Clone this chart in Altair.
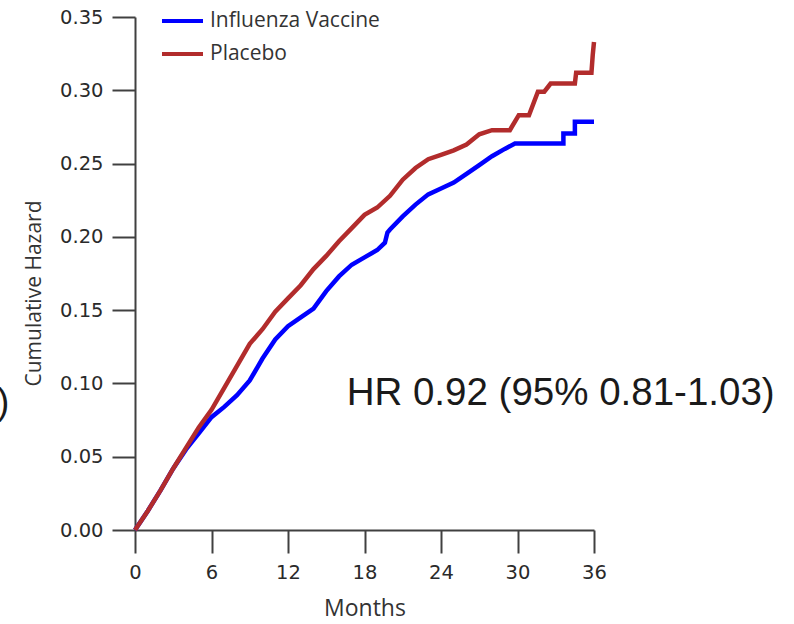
import altair as alt
import pandas as pd

# Influenza Vaccine (blue) cumulative hazard
vac_month = [0, 1, 2, 3, 4, 5, 6, 7, 8, 9, 10, 11, 12, 13, 14, 15, 16, 17, 18, 19,
             19.6, 19.8, 20, 21, 22, 23, 24, 25, 26, 27, 28, 29, 29.8, 33.6, 33.6,
             34.5, 34.5, 36]
vac_haz = [0, 0.013, 0.027, 0.042, 0.055, 0.066, 0.077, 0.084, 0.092, 0.102, 0.117,
           0.130, 0.139, 0.145, 0.151, 0.163, 0.173, 0.181, 0.186, 0.191, 0.196,
           0.203, 0.205, 0.214, 0.222, 0.229, 0.233, 0.237, 0.243, 0.249, 0.255,
           0.260, 0.2637, 0.2637, 0.2705, 0.2705, 0.2785, 0.2785]

# Placebo (red)
pla_month = [0, 1, 2, 3, 4, 5, 6, 7, 8, 9, 10, 11, 12, 13, 14, 15, 16, 17, 18, 19,
             20, 21, 22, 23, 24, 25, 26, 27, 28, 29.4, 30.1, 30.9, 31.6, 32.1, 32.6,
             34.5, 34.6, 35.8, 35.9, 36]
pla_haz = [0, 0.013, 0.027, 0.042, 0.056, 0.070, 0.082, 0.097, 0.112, 0.127, 0.137,
           0.149, 0.158, 0.167, 0.178, 0.187, 0.197, 0.206, 0.215, 0.220, 0.228,
           0.239, 0.247, 0.253, 0.256, 0.259, 0.263, 0.270, 0.2728, 0.2728, 0.283,
           0.283, 0.299, 0.299, 0.3046, 0.3046, 0.312, 0.312, 0.324, 0.333]

series_names = ["Influenza Vaccine", "Placebo"]
series_colors = ["#0000FF", "#B22C2C"]

x_ticks = [0, 6, 12, 18, 24, 30, 36]
y_ticks = [0, 0.05, 0.10, 0.15, 0.20, 0.25, 0.30, 0.35]

hr_text = ["HR 0.92 (95% 0.81-1.03)"]
hr_pos = [16.6, 0.0853]
frag_text = [")"]
frag_pos = [-9.85, 0.079]

rows = []
for i, (m, h) in enumerate(zip(vac_month, vac_haz)):
    rows.append({"Months": m, "Hazard": h, "Group": series_names[0], "order": i})
for i, (m, h) in enumerate(zip(pla_month, pla_haz)):
    rows.append({"Months": m, "Hazard": h, "Group": series_names[1], "order": i})
df = pd.DataFrame(rows)

xscale = alt.Scale(domain=[0, 36], nice=False, zero=False)
yscale = alt.Scale(domain=[0, 0.35], nice=False)

lines = alt.Chart(df).mark_line(strokeWidth=4.5, strokeJoin="miter").encode(
    x=alt.X("Months:Q", scale=xscale,
            axis=alt.Axis(values=x_ticks, title="Months", format="d", labelFlush=False,
                          titleFontSize=23, titlePadding=16, labelPadding=10)),
    y=alt.Y("Hazard:Q", scale=yscale,
            axis=alt.Axis(values=y_ticks, title="Cumulative Hazard", format=".2f",
                          titleY=276, titlePadding=15)),
    color=alt.Color("Group:N",
                    scale=alt.Scale(domain=series_names, range=series_colors),
                    legend=alt.Legend(title=None, orient="none", legendX=25, legendY=-18.5,
                                      symbolType="stroke", symbolSize=1681,
                                      symbolStrokeWidth=4, labelFont="Open Sans",
                                      labelFontSize=21, labelColor="#333333",
                                      rowPadding=-9, labelOffset=5, padding=0,
                                      labelLimit=0)),
    order="order:Q",
)

hr_df = pd.DataFrame({"Months": [hr_pos[0]], "Hazard": [hr_pos[1]], "t": hr_text})
hr = alt.Chart(hr_df).mark_text(font="Liberation Sans", fontSize=38.5, align="left",
                                baseline="alphabetic", color="#1a1a1a").encode(
    x=alt.X("Months:Q", scale=xscale), y=alt.Y("Hazard:Q", scale=yscale), text="t:N")

fr_df = pd.DataFrame({"Months": [frag_pos[0]], "Hazard": [frag_pos[1]], "t": frag_text})
frag = alt.Chart(fr_df).mark_text(font="Liberation Sans", fontSize=37, align="right",
                                  baseline="alphabetic", color="#1a1a1a").encode(
    x=alt.X("Months:Q", scale=xscale), y=alt.Y("Hazard:Q", scale=yscale), text="t:N")

chart = alt.layer(lines, hr, frag).properties(
    width=459, height=513,
    autosize=alt.AutoSizeParams(type="none"),
    padding={"left": 135, "top": 17, "right": 200, "bottom": 94},
).configure_view(stroke=None).configure_axis(
    grid=False, domainColor="#404040", domainWidth=2, tickColor="#404040",
    tickWidth=2, tickSize=23, labelFont="DejaVu Sans", labelFontSize=19.5,
    labelColor="#2a2a2a", titleFont="Open Sans", titleFontSize=21,
    titleFontWeight="normal", titleColor="#333333", labelPadding=9,
)

chart.save("out.html", embed_options={"renderer": "svg", "actions": False})
